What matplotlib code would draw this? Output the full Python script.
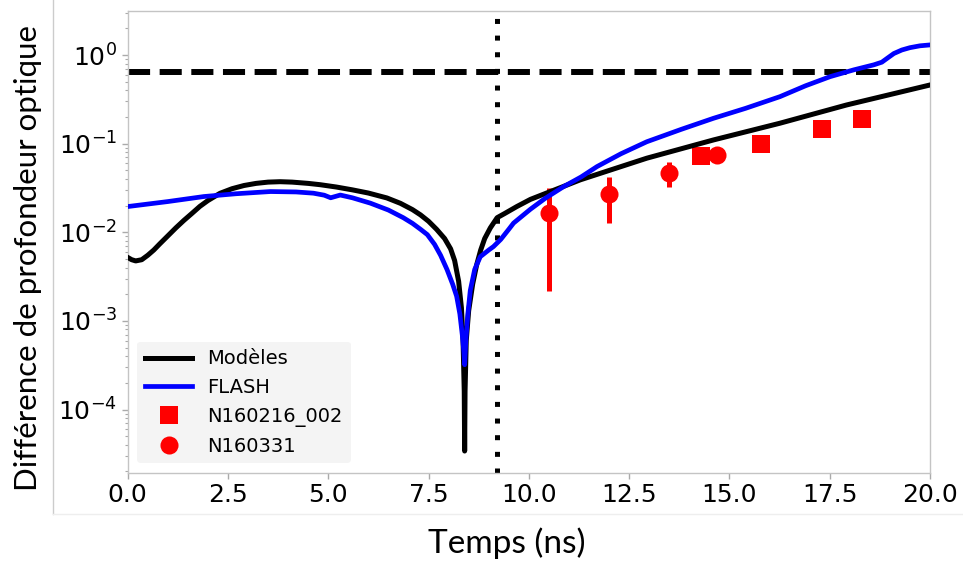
import numpy as np
import matplotlib
matplotlib.use('Agg')
import matplotlib.pyplot as plt
from matplotlib.lines import Line2D

plt.rcParams['font.family'] = ['DejaVu Sans']
plt.rcParams['mathtext.fontset'] = 'dejavusans'

# --- data ---
t_model = [0.0, 0.1, 0.2, 0.35, 0.5, 0.65, 0.8, 1.0, 1.2, 1.4, 1.6, 1.8, 2.0,
           2.3, 2.6, 2.9, 3.2, 3.5, 3.8, 4.1, 4.5, 4.8, 5.2, 5.6, 6.0, 6.46,
           6.8, 7.1, 7.3, 7.5, 7.7, 7.9, 8.05, 8.15, 8.25, 8.32, 8.36, 8.39,
           8.40, 8.41, 8.44, 8.5, 8.6, 8.7, 8.8, 8.9, 9.04, 9.21, 9.4, 9.7,
           10.04, 11.28, 12.94, 14.6, 16.26, 17.92, 20.0]
d_model = [0.0052, 0.0049, 0.00475, 0.0049, 0.0055, 0.0063, 0.0074, 0.0091,
           0.0112, 0.0136, 0.0163, 0.0196, 0.0228, 0.0275, 0.031, 0.0337,
           0.0356, 0.0368, 0.0372, 0.0368, 0.0356, 0.0344, 0.0324, 0.0301,
           0.0277, 0.0244, 0.0212, 0.018, 0.0157, 0.0133, 0.0108, 0.0085,
           0.0065, 0.0048, 0.0028, 0.0014, 6.0e-4, 1.6e-4, 3.4e-5, 1.6e-4,
           6.0e-4, 0.0013, 0.0026, 0.0043, 0.0063, 0.0085, 0.0112, 0.0146,
           0.0163, 0.0195, 0.0235, 0.039, 0.0685, 0.110, 0.170, 0.273, 0.459]

t_flash = [0.0, 1.0, 1.9, 2.7, 3.56, 4.2, 4.63, 4.9, 5.06, 5.3, 5.6, 6.05,
           6.5, 6.87, 7.1, 7.3, 7.47, 7.65, 7.8, 7.96, 8.1, 8.2, 8.28, 8.34,
           8.38, 8.40, 8.43, 8.48, 8.54, 8.65, 8.79, 9.0, 9.12, 9.3, 9.5, 9.62,
           10.04, 10.4, 10.87, 11.3, 11.7, 12.3, 12.94, 13.8, 14.6, 15.4,
           16.26, 16.9, 17.51, 18.1, 18.6, 18.8, 18.95, 19.1, 19.3, 19.5,
           19.75, 20.0]
d_flash = [0.0195, 0.0222, 0.0253, 0.0272, 0.0288, 0.0285, 0.0276, 0.0262,
           0.0245, 0.0263, 0.0245, 0.0213, 0.0178, 0.0146, 0.0126, 0.0108,
           0.0094, 0.0073, 0.0055, 0.0038, 0.0026, 0.0019, 0.0012, 7.0e-4,
           4.5e-4, 3.2e-4, 6.0e-4, 0.0012, 0.0022, 0.0038, 0.0053, 0.0063,
           0.0069, 0.0083, 0.0108, 0.0127, 0.0182, 0.024, 0.0328, 0.042,
           0.0551, 0.077, 0.105, 0.145, 0.193, 0.25, 0.339, 0.45, 0.570, 0.68,
           0.775, 0.83, 0.93, 1.04, 1.14, 1.21, 1.27, 1.30]

t_n216 = [14.3, 15.8, 17.3, 18.3]
d_n216 = [0.0727, 0.0993, 0.1465, 0.188]

t_n331 = [10.5, 12.0, 13.5, 14.7]
d_n331 = [0.0167, 0.0271, 0.0471, 0.0746]
e_n331 = [0.0145, 0.0145, 0.0148, 0.0145]

seuil = 0.65       # horizontal dashed level
t_limite = 9.21    # vertical dotted time

# --- figure ---
fig = plt.figure(figsize=(9.63, 5.65), dpi=100)
ax = fig.add_axes([0.1326, 0.1628, 0.8331, 0.8182])

ax.errorbar(t_n331, d_n331, yerr=e_n331, fmt='none', ecolor='red',
            elinewidth=3.6, capsize=0, zorder=2)
ax.plot(t_n216, d_n216, 's', color='red', ms=13, mew=0, zorder=2,
        label='N160216_002')
ax.plot(t_n331, d_n331, 'o', color='red', ms=13, mew=0, zorder=2,
        label='N160331')

ax.axhline(seuil, color='black', lw=4.3, ls='--', zorder=2.5)
ax.axvline(t_limite, color='black', lw=3.6, ls=(0, (1, 2.33)), zorder=2.5)

ax.plot(t_model, d_model, color='black', lw=3.6, label='Modèles', zorder=3)
ax.plot(t_flash, d_flash, color='blue', lw=3.4, label='FLASH', zorder=3)

ax.set_yscale('log')
ax.set_xlim(0, 20)
ax.set_ylim(1.92e-5, 3.16)
ax.set_xticks(np.arange(0, 20.1, 2.5))
ax.set_xticklabels([f'{v:.1f}' for v in np.arange(0, 20.1, 2.5)])

for s in ax.spines.values():
    s.set_color('#c4c4c4')
    s.set_linewidth(1.0)
ax.tick_params(which='major', labelsize=18, color='#aaaaaa', length=4, width=1)
ax.tick_params(which='minor', color='#aaaaaa', length=2.5, width=0.8)

h, l = ax.get_legend_handles_labels()
order = [l.index(n) for n in ['Modèles', 'FLASH', 'N160216_002', 'N160331']]
leg = ax.legend([h[i] for i in order], [l[i] for i in order], loc='lower left',
                fontsize=14, facecolor='#f4f4f4', edgecolor='none',
                framealpha=1.0, handlelength=2.4)

fig.text(0.029, 0.543, 'Différence de profondeur optique', rotation=90,
         ha='center', va='center', fontsize=22.5, family='Lato')
fig.text(0.5265, 0.039, 'Temps (ns)', ha='center', va='center',
         fontsize=24, family='Lato')

# frame of the pasted chart
fig.add_artist(Line2D([53 / 963, 53 / 963], [1, 1 - 514 / 565],
                      transform=fig.transFigure, color='#cccccc', lw=1))
fig.add_artist(Line2D([53 / 963, 1], [1 - 514 / 565, 1 - 514 / 565],
                      transform=fig.transFigure, color='#eeeeee', lw=1))

fig.savefig('out.png', dpi=100)
